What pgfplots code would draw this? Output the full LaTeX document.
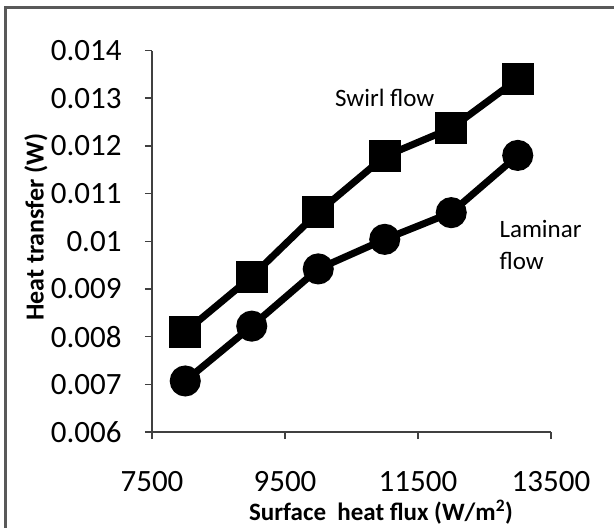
\documentclass[border=0pt]{standalone}
\usepackage{pgfplots}
\pgfplotsset{compat=1.18}
\usepackage{fontspec}
\setmainfont{Carlito}
\begin{document}
\begin{tikzpicture}[x=1pt,y=1pt]
\useasboundingbox (0,0) rectangle (614,528);
\draw[black!65, line width=3pt] (5,0) -- (5,520) -- (614,520);
\begin{axis}[
  at={(152pt,96pt)}, anchor=south west,
  scale only axis, width=399pt, height=381.5pt,
  xmin=7500, xmax=13500, ymin=0.006, ymax=0.014,
  scaled ticks=false,
  axis x line=bottom, axis y line=left,
  axis line style={-, black!75, line width=1.5pt},
  xtick={7500,9500,11500,13500},
  xticklabels={7500,9500,11500,13500},
  ytick={0.006,0.007,0.008,0.009,0.010,0.011,0.012,0.013,0.014},
  yticklabels={0.006,0.007,0.008,0.009,0.01,0.011,0.012,0.013,0.014},
  tick align=outside, major tick length=7pt,
  tick style={black!75, line width=1.5pt},
  ticklabel style={font=\fontsize{31}{36}\selectfont},
  yticklabel style={xshift=-20pt},
  xticklabel style={yshift=-29pt},
  xlabel={\textbf{Surface\ \ heat flux (W/m\textsuperscript{2})}},
  ylabel={\textbf{Heat transfer (W)}},
  xlabel style={font=\fontsize{25}{30}\selectfont, at={(axis description cs:0.574,-0.21)}, anchor=center},
  ylabel style={font=\fontsize{26}{30}\selectfont, at={(axis description cs:-0.291,0.537)}, anchor=center},
  clip=false,
]
\addplot[black, line width=7pt, mark=square*, mark size=12.5pt, mark options={solid}]
  coordinates {(8000,0.0081)(9000,0.00926)(10000,0.01061)(11000,0.01178)(12000,0.01237)(13000,0.0134)};
\addplot[black, line width=7pt, mark=*, mark size=12pt, mark options={solid}]
  coordinates {(8000,0.00707)(9000,0.00822)(10000,0.00942)(11000,0.01004)(12000,0.0106)(13000,0.0118)};
\node[font=\fontsize{25}{30}\selectfont] at (axis cs:11000,0.0130) {Swirl flow};
\node[font=\fontsize{25}{32}\selectfont, anchor=west, align=left] at (axis cs:12673,0.00992) {Laminar\\flow};
\end{axis}
\end{tikzpicture}
\end{document}
